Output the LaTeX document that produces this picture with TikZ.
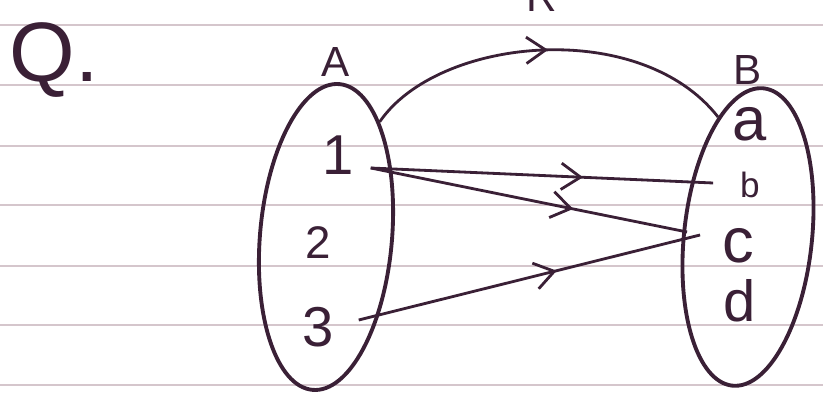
\documentclass[tikz,border=0pt]{standalone}
\usepackage{fontspec}
\setmainfont{Liberation Sans}
\usetikzlibrary{shapes.geometric, arrows.meta, positioning, calc, decorations.markings}
\definecolor{inkpurple}{HTML}{3A2036}
\definecolor{ruleline}{HTML}{D5C6CC}
\newcommand{\handfont}[1]{\fontsize{#1}{#1}\selectfont}
\tikzset{
  setoval/.style={ellipse, draw=inkpurple, line width=2.2pt, inner sep=0pt},
  elemtext/.style={text=inkpurple, inner sep=1pt},
  maparrow/.style={draw=inkpurple, line width=1.6pt,
                   decoration={markings, mark=at position #1 with {\arrow{Straight Barb[length=11pt, width=15pt, line width=1.6pt]}}},
                   postaction={decorate}},
  maparrow/.default=0.6,
  paperline/.style={draw=ruleline, line width=1pt},
}

\begin{document}
\begin{tikzpicture}[x=0.02cm, y=-0.02cm]
  \useasboundingbox (0,0) rectangle (823,394);
  % ruled paper
  \foreach \ly in {25,85,146,205,266,325,385}
    \draw[paperline] (0,\ly) -- (823,\ly);

  \node[elemtext, font=\handfont{48pt}] (qlabel) at (54,60) {Q.};

  % the two sets
  \node[setoval, minimum width=2.64cm, minimum height=6.14cm, rotate=-5] (setA) at (326,237) {};
  \node[setoval, minimum width=2.56cm, minimum height=5.98cm, rotate=-6] (setB) at (748,237) {};
  \node[elemtext, font=\handfont{24pt}] (nameA) at (336,62) {A};
  \node[elemtext, font=\handfont{24pt}] (nameB) at (748,70) {B};

  % elements of A
  \node[elemtext, font=\handfont{32pt}] (n1) at (338,155) {1};
  \node[elemtext, font=\handfont{26pt}] (n2) at (318,243) {2};
  \node[elemtext, font=\handfont{32pt}] (n3) at (318,327) {3};

  % elements of B
  \node[elemtext, font=\handfont{35pt}] (na) at (750,124) {a};
  \node[elemtext, font=\handfont{20pt}] (nb) at (750,185) {b};
  \node[elemtext, font=\handfont{36pt}] (nc) at (738,246) {c};
  \node[elemtext, font=\handfont{33pt}] (nd) at (740,301) {d};

  % relation arrows
  \draw[maparrow=0.62] ($(n1.east)+(15,13)$) -- ($(nb.west)+(-25,-2)$);
  \draw[maparrow=0.64] ($(n1.east)+(15,13)$) -- ($(nc.west)+(-33,-14)$);
  \draw[maparrow=0.58] ($(n3.east)+(23,-7)$) -- ($(nc.west)+(-20,-11)$);

  % R from A to B
  \draw[maparrow=0.5] (setA.70) .. controls +(58,-85) and +(-78,-100) .. (setB.110);
  \node[elemtext, font=\handfont{24pt}, anchor=base] (rlabel) at (542,12) {R};
\end{tikzpicture}
\end{document}
